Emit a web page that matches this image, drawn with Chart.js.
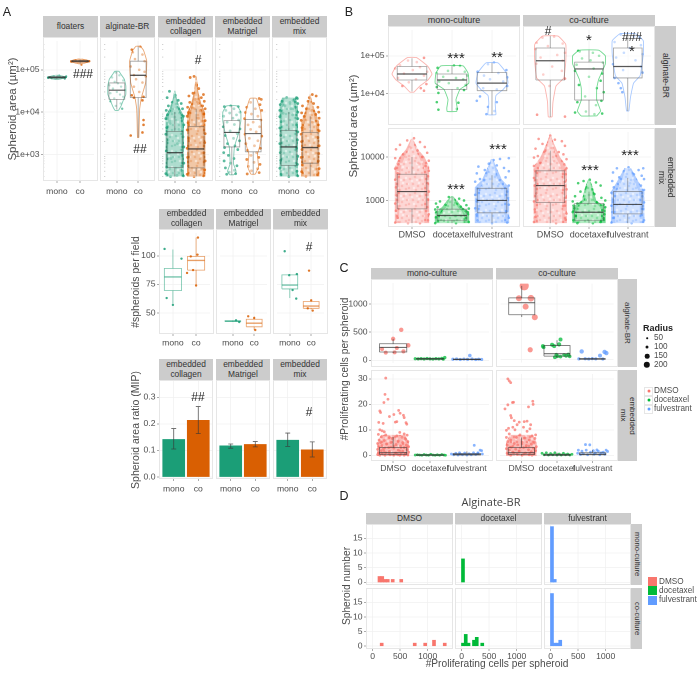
<!DOCTYPE html>
<html>
<head>
<meta charset="utf-8">
<title>Spheroid panels</title>
<script src="https://cdn.jsdelivr.net/npm/chart.js@4"></script>
<style>
  html, body { margin: 0; padding: 0; background: #fff; }
  #fig { position: relative; width: 700px; height: 674px; overflow: hidden; filter: blur(0.45px); font-family: "Liberation Sans", Arial, sans-serif; color: #4d4d4d; }
  #fig canvas { position: absolute; }
  .t { position: absolute; white-space: pre; line-height: 1.05; text-align: center; transform: translate(-50%, -50%); }
  .strip { position: absolute; background: #cccccc; color: #333; display: flex; align-items: center; justify-content: center; text-align: center; line-height: 1.15; white-space: pre; }
  .frame { position: absolute; border: 1px solid #e6e6e6; box-sizing: border-box; pointer-events: none; }
  .dot { position: absolute; border-radius: 50%; transform: translate(-50%, -50%); }
</style>
</head>
<body>
<div id="fig"></div>
<script>
// categories
const monoCo = ['mono', 'co'];
const drugs = ['DMSO', 'docetaxel', 'fulvestrant'];

// colours
const GREEN = '#1b9e77', ORANGE = '#d95f02';
const RED = '#f8766d', LIME = '#00ba38', BLUE = '#619cff';

// ---- panel A, spheroid area: [offset from category, value]
const aFloMono = [[-.38,6.4e4],[-.3,6.6e4],[-.22,6.3e4],[-.14,7e4],[-.06,6.5e4],[.02,6.9e4],[.1,7.3e4],[.18,6.5e4],[.26,6.7e4],[.34,6.2e4],[.4,7e4]];
const aFloCo = [[-.38,1.55e5],[-.3,1.62e5],[-.2,1.7e5],[-.1,1.5e5],[-.02,1.6e5],[.06,1.32e5],[.14,1.68e5],[.22,1.55e5],[.3,1.62e5],[.4,1.6e5]];
const aAlgMono = [[-.05,8.6e4],[.12,7.4e4],[-.22,6.6e4],[.3,5.6e4],[-.1,5.2e4],[.05,4.8e4],[-.35,4.3e4],[.2,4e4],[-.18,3.6e4],[.38,3.3e4],[0,3e4],[-.3,2.8e4],[.15,2.6e4],[.3,2.3e4],[-.12,2.1e4],[-.3,1.8e4],[.18,1.6e4],[-.05,1.4e4],[.25,1.2e4]];
const aAlgCo = [[-.3,3e5],[.1,3.5e5],[-.25,2.6e5],[.2,2.3e5],[-.15,1.8e5],[.3,1.6e5],[-.35,1.2e5],[.05,1e5],[.3,9e4],[-.2,7.5e4],[.35,7e4],[-.1,6e4],[.2,5e4],[-.2,4e4],[.05,3e4],[-.3,2.5e4],[.25,2.3e4],[-.2,2.2e4],[.2,1.9e4],[.25,5000],[.25,6500],[-.35,2800],[.2,3300]];
const aColMono = [[-.25,3.1e4],[.02,2.5e4],[-.36,2.2e4],[.16,1.9e4],[-.12,1.7e4],[.3,1.6e4],[-.3,1.4e4],[.1,1.3e4],[.36,1.2e4],[-.4,1.1e4],[-.16,1.05e4],[.22,9500],[-.34,8700],[.4,8000],[0,7600],[-.42,7000],[.33,6200],[-.22,5400],[.42,5000],[-.38,4300],[.2,3900],[-.42,3000],[.38,2600],[-.3,2200],[.12,1800],[.42,1500],[-.4,1200],[.34,950],[-.18,800],[.42,620],[-.38,500],[.3,420],[-.42,350],[.1,320],[.4,310],[-.2,300]];
const aColCo = [[-.1,7e4],[-.28,6.6e4],[.02,4.4e4],[.12,3.6e4],[-.15,2.8e4],[.34,2.6e4],[-.34,2.4e4],[.24,2.2e4],[-.05,2e4],[.38,1.8e4],[-.3,1.7e4],[.1,1.6e4],[.3,1.4e4],[-.4,1.3e4],[-.15,1.25e4],[.42,1.2e4],[.2,1.1e4],[-.36,9800],[.36,9000],[-.42,8000],[.1,7200],[.42,6300],[-.38,5600],[.28,4700],[-.42,3800],[.42,3100],[-.34,2400],[.4,1900],[-.42,1400],[.36,1100],[-.4,850],[.42,700],[-.36,520],[.4,430],[-.42,340],[.34,310],[-.1,300]];
const aMatMono = [[-.35,1.35e4],[-.05,1.4e4],[.3,1.35e4],[.1,1.2e4],[-.28,1.1e4],[.38,1e4],[-.1,9500],[.22,8600],[-.38,8000],[.05,7200],[.32,6500],[-.22,5800],[.12,5100],[-.4,4500],[.38,4000],[-.08,3600],[.25,3100],[-.3,2800],[.08,2400],[.36,2100],[-.2,1800],[.14,1600],[-.34,1450],[.28,1300],[-.38,1100],[-.16,950],[.1,800],[-.36,700],[-.05,620],[.24,540],[-.3,480],[.12,420],[-.12,380],[.18,350],[-.24,340]];
const aMatCo = [[.28,2.1e4],[.38,2e4],[-.12,1.7e4],[.32,1.5e4],[-.3,1.3e4],[.1,1.2e4],[.4,1.1e4],[-.36,9800],[-.08,9000],[.22,8000],[-.4,7000],[.36,6500],[0,5800],[-.24,5000],[.3,4500],[-.12,3900],[.14,3400],[-.38,3000],[.4,2700],[-.18,2400],[.22,2100],[-.34,1800],[.06,1600],[.34,1400],[-.26,1250],[.16,1100],[-.1,950],[.26,850],[-.3,760],[.04,650],[.32,580],[-.22,520],[.2,460],[-.08,410],[.28,370],[-.28,345]];
const aMixMono = [[.36,2.2e4],[.4,2.1e4],[-.1,2.2e4],[.2,1.9e4],[-.32,1.8e4],[.05,1.7e4],[.42,1.6e4],[-.4,1.5e4],[-.18,1.4e4],[.3,1.3e4],[.1,1.2e4],[-.42,1.1e4],[.42,1e4],[-.26,9400],[.18,8600],[-.42,7800],[.42,7000],[-.36,6000],[.36,5000],[-.42,4200],[.42,3400],[-.38,2800],[.4,2200],[-.42,1800],[.36,1400],[-.4,1100],[.42,900],[-.38,720],[.4,580],[-.42,470],[.38,400],[-.36,340],[.42,310],[0,300]];
const aMixCo = [[.1,2.6e4],[-.04,2.2e4],[.28,2.4e4],[-.1,1.8e4],[.16,1.6e4],[-.36,1.4e4],[.36,1.3e4],[-.18,1.2e4],[.08,1.1e4],[.4,1e4],[-.4,9600],[.26,8800],[-.28,7900],[.42,7200],[-.42,6400],[.1,5800],[.38,5000],[-.38,4300],[.42,3600],[-.42,3000],[.36,2500],[-.4,2000],[.42,1600],[-.38,1300],[.4,1050],[-.42,850],[.38,700],[-.36,560],[.42,460],[-.4,390],[.34,330],[-.2,305]];

// violins: [value, half width]
const aFloMonoV = [[5.8e4,.04],[6.4e4,.42],[6.9e4,.42],[7.6e4,.04]];
const aFloCoV = [[1.35e5,.04],[1.52e5,.42],[1.68e5,.42],[1.85e5,.04]];
const aAlgMonoV = [[1.1e4,.08],[1.4e4,.2],[2e4,.32],[2.6e4,.42],[4.2e4,.42],[6e4,.35],[8e4,.18],[9.2e4,.1]];
const aAlgCoV = [[2500,.03],[6000,.05],[1.2e4,.07],[2.2e4,.15],[5e4,.35],[1.6e5,.4],[2.9e5,.25],[3.6e5,.1]];
const aColMonoV = [[300,.42],[1000,.43],[3000,.43],[8000,.39],[1.2e4,.2],[2e4,.08],[3.2e4,.02]];
const aColCoV = [[300,.43],[1000,.43],[5000,.43],[1e4,.33],[1.5e4,.2],[3e4,.08],[7e4,.02]];
const aMatMonoV = [[330,.1],[400,.2],[600,.08],[1500,.12],[3000,.3],[6000,.42],[1e4,.42],[1.4e4,.25]];
const aMatCoV = [[340,.1],[500,.25],[1000,.2],[1500,.3],[3000,.4],[6000,.38],[1e4,.35],[2.1e4,.15]];
const aMixMonoV = [[300,.43],[1000,.43],[5000,.43],[1e4,.43],[1.5e4,.35],[2.2e4,.25]];
const aMixCoV = [[300,.4],[1000,.43],[3000,.43],[6000,.33],[1e4,.2],[2e4,.05],[2.6e4,.02]];

// boxes: [low, q1, median, q3, high]
const aFloMonoB = [6e4,6.4e4,6.6e4,6.9e4,7.3e4];
const aFloCoB = [1.4e5,1.54e5,1.6e5,1.66e5,1.75e5];
const aAlgMonoB = [1.15e4,2e4,3.3e4,4.9e4,9e4];
const aAlgCoB = [2500,2.2e4,7.4e4,1.6e5,3.6e5];
const aColMonoB = [300,490,1100,3500,1e4];
const aColCoB = [300,480,1350,4600,1.2e4];
const aMatMonoB = [330,1500,3300,6300,1.4e4];
const aMatCoB = [340,1150,3100,6700,2.1e4];
const aMixMonoB = [300,550,1500,3700,1e4];
const aMixCoB = [300,620,1450,3300,8000];

// ---- panel A, spheroids per field
const fColMono = [[-.36,106],[.37,97.5],[-.27,63],[0,57]];
const fColCo = [[.08,116],[.06,101],[-.23,99.5],[-.39,85],[-.13,87.5],[0,74]];
const fMatMono = [[.15,43.5],[.3,42]];
const fMatCo = [[-.28,47],[0,45.5],[.05,35]];
const fMixMono = [[-.24,104],[.33,84],[-.03,83],[.13,70],[.3,62.5]];
const fMixCo = [[-.1,87],[0,61],[.07,52],[-.16,54]];
const fColMonoB = [58,69.5,81.5,89,105.5];
const fColCoB = [74,87.5,96,99.5,116];
const fMatMonoB = [42,42.5,42.8,43,43.5];
const fMatCoB = [35,37.8,41,44.4,47];
const fMixMonoB = [63,71,74.4,83.3,84];
const fMixCoB = [53,54,56,60,61];

// ---- panel A, area ratio (MIP): mean, low, high for mono and co
const ratioCollagen = [[.141,.105,.182],[.213,.163,.265]];
const ratioMatrigel = [[.117,.108,.124],[.122,.113,.133]];
const ratioMix = [[.138,.115,.165],[.102,.075,.132]];

// ---- panel B, alginate-BR row
const bAlgMonoD = [[.3,8.8e4],[-.1,7.5e4],[.12,6.8e4],[-.3,5.6e4],[.2,5e4],[-.42,4.6e4],[.02,4.2e4],[.38,3.8e4],[-.2,3.4e4],[.3,3e4],[-.35,2.6e4],[.1,2.4e4],[-.08,2e4],[.36,1.8e4],[-.24,1.6e4],[.22,1.4e4],[.3,1.2e4]];
const bAlgMonoT = [[.05,5.5e4],[.2,5.4e4],[-.36,4.8e4],[-.1,4e4],[.32,3.8e4],[-.38,3.5e4],[.38,3e4],[-.22,2.8e4],[.1,2.6e4],[.28,2.4e4],[-.32,2.1e4],[-.08,1.9e4],[.34,1.7e4],[-.38,1.5e4],[.14,1.4e4],[-.34,1.05e4],[.3,1.25e4],[-.38,6000],[.16,5800],[-.34,3800],[.12,4000]];
const bAlgMonoF = [[.05,6.6e4],[-.1,6e4],[.36,4.2e4],[-.36,3.8e4],[.16,3.5e4],[-.2,3e4],[.38,2.7e4],[-.05,2.4e4],[.28,2.1e4],[-.34,1.9e4],[.38,1.6e4],[-.22,1.4e4],[.12,1.3e4],[-.3,8500],[-.38,6500],[.12,6000],[-.1,4500],[.06,3500],[-.14,2900]];
const bAlgCoD = [[.1,3.2e5],[-.2,3e5],[-.35,2.2e5],[.32,2.1e5],[-.06,1.8e5],[-.38,1.5e5],[.38,1.2e5],[.18,1.05e5],[-.25,9e4],[.32,7.5e4],[-.36,6.2e4],[.05,5.2e4],[.3,4e4],[-.18,3.2e4],[.38,2.5e4],[-.02,1.6e4],[-.34,2800],[.38,2500]];
const bAlgCoT = [[-.28,1.35e5],[-.24,1.3e5],[.1,1.2e5],[.26,1e5],[-.18,8.5e4],[.04,7.6e4],[.36,6.6e4],[-.32,5.8e4],[.12,4.6e4],[-.36,4e4],[.34,3.4e4],[0,2.8e4],[.3,2.2e4],[-.26,1.7e4],[.2,1.4e4],[.38,1.1e4],[-.1,8500],[.32,6500],[-.3,6000],[.18,5000],[-.36,3200],[-.08,3400],[.14,2900],[.34,3000]];
const bAlgCoF = [[-.18,3.6e5],[.16,3.2e5],[.3,3e5],[-.34,2.3e5],[.05,1.6e5],[.34,1.9e5],[-.1,1.2e5],[.38,1.1e5],[-.3,9e4],[.2,7.6e4],[-.38,6e4],[.34,5.2e4],[-.12,4.2e4],[.38,3.6e4],[-.34,2.6e4],[-.24,1.9e4],[-.18,1.4e4],[-.14,1.1e4]];
const bAlgMonoDV = [[1.1e4,.05],[1.6e4,.2],[2.3e4,.4],[3.3e4,.5],[5.2e4,.4],[7.5e4,.22],[9e4,.1]];
const bAlgMonoTV = [[3400,.12],[4200,.13],[7000,.1],[1.3e4,.2],[1.9e4,.42],[3.5e4,.4],[5.4e4,.28]];
const bAlgMonoFV = [[2800,.1],[5500,.08],[9000,.1],[1.3e4,.28],[1.9e4,.4],[3.6e4,.35],[6.5e4,.15]];
const bAlgCoDV = [[2450,.05],[6000,.07],[1.6e4,.15],[2.6e4,.35],[7e4,.4],[2e5,.4],[3.3e5,.2]];
const bAlgCoTV = [[2600,.2],[3500,.3],[6800,.2],[1.4e4,.2],[2.4e4,.25],[6e4,.42],[1e5,.42],[1.4e5,.25]];
const bAlgCoFV = [[3500,.03],[8000,.07],[1.9e4,.15],[3e4,.32],[1.1e5,.4],[2.5e5,.4],[3.8e5,.2]];
const bAlgMonoDB = [1.15e4,2.3e4,3.3e4,5.2e4,8.6e4];
const bAlgMonoTB = [3500,1.3e4,2.3e4,3.3e4,5.4e4];
const bAlgMonoFB = [2800,1.2e4,1.9e4,3.6e4,6.5e4];
const bAlgCoDB = [2450,2.3e4,7.4e4,1.6e5,3.3e5];
const bAlgCoTB = [2600,6800,4.5e4,6.8e4,1.4e5];
const bAlgCoFB = [3500,2.6e4,5.2e4,1.6e5,3.8e5];

// ---- panel B, embedded mix row
const bMixMonoD = [[.05,2.7e4],[-.12,2.4e4],[.2,2.2e4],[-.3,1.9e4],[.32,1.7e4],[-.02,1.6e4],[-.4,1.5e4],[.14,1.4e4],[.38,1.25e4],[-.22,1.15e4],[.26,1e4],[-.42,9400],[-.08,8800],[.42,8200],[.16,7300],[-.34,6800],[.34,6200],[-.42,5400],[.42,4800],[-.36,4200],[.4,3600],[-.42,3000],[.38,2500],[-.4,2000],[.42,1600],[-.38,1300],[.4,1050],[-.42,850],[.38,700],[-.4,580],[.42,480],[-.36,400],[.4,350],[-.42,310],[.2,300],[-.1,300]];
const bMixMonoT = [[-.08,1200],[.18,1100],[-.3,950],[.3,1000],[.08,880],[-.4,850],[-.16,800],[.36,780],[.22,720],[-.36,700],[.42,650],[-.42,620],[.34,560],[-.26,530],[.4,480],[.1,440],[-.4,410],[.3,370],[-.2,340],[.42,320],[-.42,300],[.1,300]];
const bMixMonoF = [[.2,9000],[.42,9400],[.04,8500],[-.08,7000],[.12,6400],[-.34,6000],[.3,5600],[-.18,5000],[.42,4700],[-.38,4200],[.1,3800],[.34,3400],[-.3,3100],[-.42,2700],[.18,2400],[.42,2200],[-.36,1900],[.38,1600],[-.42,1350],[.4,1150],[-.38,950],[.42,800],[-.42,660],[.36,560],[-.38,480],[.42,400],[-.36,350],[.38,310],[0,300]];
const bMixCoD = [[0,3.1e4],[-.3,2.6e4],[.12,2.5e4],[.3,2.3e4],[-.2,2e4],[.38,1.8e4],[.06,1.6e4],[-.38,1.55e4],[-.12,1.4e4],[.22,1.3e4],[.34,1.15e4],[-.32,1.05e4],[-.42,9700],[.42,8900],[.1,8000],[-.26,7300],[.36,6800],[-.42,6200],[.42,5500],[-.38,4700],[.4,4000],[-.42,3300],[.38,2700],[-.4,2200],[.42,1800],[-.36,1450],[.4,1150],[-.42,950],[.38,760],[-.4,620],[.42,500],[-.38,420],[.4,360],[-.42,320],[.15,300]];
const bMixCoT = [[.02,3000],[-.14,2800],[.18,2600],[-.28,2500],[.3,2200],[-.06,2000],[.08,1800],[-.22,1600],[.14,1400],[-.36,1250],[.32,1150],[-.1,1050],[.42,1000],[-.42,950],[.2,900],[-.3,850],[.38,800],[-.4,760],[.42,700],[-.38,660],[.34,600],[-.42,540],[.4,480],[-.34,440],[.38,390],[-.4,350],[.3,320],[-.3,300],[.1,300]];
const bMixCoF = [[.02,5800],[-.28,5500],[.4,5500],[.28,5000],[-.1,4700],[-.38,4400],[.16,4000],[.36,3700],[-.22,3400],[.42,3100],[-.4,2800],[.06,2500],[.34,2200],[-.36,2000],[.42,1750],[-.42,1500],[.38,1250],[-.38,1050],[.42,900],[-.42,760],[.4,640],[-.4,540],[.36,460],[-.36,400],[.42,350],[-.42,310],[.1,300]];
const bMixMonoDV = [[300,.43],[1000,.43],[3000,.43],[6000,.38],[1e4,.25],[1.5e4,.12],[2.6e4,.02]];
const bMixMonoTV = [[300,.43],[400,.43],[550,.35],[700,.2],[1000,.1],[1250,.02]];
const bMixMonoFV = [[300,.43],[800,.43],[2000,.4],[3000,.2],[6000,.08],[9000,.02]];
const bMixCoDV = [[300,.43],[1000,.43],[3000,.43],[6000,.38],[1e4,.2],[2e4,.08],[3e4,.02]];
const bMixCoTV = [[300,.35],[400,.43],[700,.4],[1000,.15],[2000,.08],[3000,.02]];
const bMixCoFV = [[300,.43],[800,.43],[1600,.4],[3000,.2],[5500,.07]];
const bMixMonoDB = [300,640,1600,4000,1e4];
const bMixMonoTB = [300,350,450,630,1200];
const bMixMonoFB = [300,520,1000,1900,3800];
const bMixCoDB = [300,890,2200,4800,1.4e4];
const bMixCoTB = [300,350,535,850,1600];
const bMixCoFB = [300,490,810,1600,3300];

// ---- panel C, alginate-BR row: [offset, cells, radius]
const cAlgMonoD = [[.22,540,80],[0,380,80],[.41,265,85],[.1,217,70],[-.3,200,70],[-.2,135,70],[.04,140,70],[.28,158,75]];
const cAlgMonoT = [[-.4,28,50],[-.32,25,50],[-.24,30,50],[-.16,24,50],[-.08,32,50],[0,26,50],[.08,22,50],[.16,30,50],[.24,25,50],[.32,34,50],[.4,48,55],[.36,20,50]];
const cAlgMonoF = [[-.38,18,50],[-.28,24,50],[-.18,14,50],[-.08,22,50],[.02,16,50],[.08,85,60],[.14,24,50],[.24,13,50],[.32,20,50],[.4,15,50]];
const cAlgCoD = [[.07,1331,200],[-.08,1108,120],[.26,1108,135],[.11,956,120],[.37,766,120],[.24,180,100]];
const cAlgCoT = [[-.4,245,70],[-.38,225,65],[-.14,270,70],[-.08,245,70],[.1,365,70],[.06,277,75],[-.06,45,65],[.02,65,60],[.1,55,60],[.2,85,60],[.26,70,60],[.32,95,60],[.36,60,60],[-.02,90,60]];
const cAlgCoF = [[-.3,150,80],[.35,140,80],[.4,120,80],[.22,75,70],[-.38,15,50],[-.2,18,50],[-.1,14,50],[0,20,50],[.1,16,50],[.3,13,50]];
const cAlgMonoDB = [130,147,228,293,380];
const cAlgMonoTB = [10,18,25,32,45];
const cAlgMonoFB = [8,12,15,20,30];
const cAlgCoDB = [770,810,1027,1114,1331];
const cAlgCoTB = [30,65,108,255,350];
const cAlgCoFB = [5,10,14,20,35];

// ---- panel C, embedded mix row: [offset, cells]
const cMixMonoD = [[-.2,30.3],[-.22,23.9],[-.14,22],[-.25,20.7],[-.36,17.4],[-.34,16.8],[.15,17.6],[.19,16.5],[.02,16],[-.1,15.2],[.28,15.7],[.3,14.8],[.06,13],[.1,13.2],[.35,12.8],[.37,12.2],[-.39,12.9],[-.27,12.5],[-.36,10],[-.3,9.6],[-.24,9.2],[.18,9],[.3,8.4],[-.4,8.2],[-.2,8],[.38,7.9],[.1,7.6],[-.32,7.2],[-.1,7],[.24,7],[-.02,6.6],[.34,6.3],[-.38,6],[-.24,5.8],[.14,5.6],[.4,5.4],[-.34,5],[-.06,5],[.26,5],[-.42,4.6],[-.18,4.4],[.08,4.2],[.36,4],[-.3,3.8],[.2,3.7],[.42,3.4],[-.38,3.2],[-.12,3],[.3,3],[.02,2.8],[-.26,2.6],[-.42,2.3],[.38,2.2],[.14,2],[-.32,1.8],[.26,1.6],[-.1,1.5],[.42,1.2],[-.4,1],[-.2,1],[.08,.9],[.34,.8],[-.3,.6],[.22,.5],[-.42,.3],[-.08,.2],[.12,.2],[.4,.1],[-.22,0],[.3,0],[.02,0],[-.36,0],[.18,0]];
const cMixMonoT = [[-.4,.1],[-.34,.2],[-.28,.1],[-.22,0],[-.16,.3],[-.1,.1],[-.04,0],[.02,.4],[.08,.1],[.14,0],[.2,.2],[.26,0],[.32,.3],[.38,.1],[.42,0]];
const cMixMonoF = [[-.42,.5],[-.36,.2],[-.3,.8],[-.24,.1],[-.18,.5],[-.12,.2],[-.06,.9],[0,.1],[.06,.6],[.12,.2],[.18,1],[.24,.3],[.3,.8],[.36,2],[.4,1.8],[.42,.5],[.2,3.9],[.3,1],[-.2,1]];
const cMixCoD = [[-.38,30],[-.34,29.2],[-.3,28.5],[-.25,20.7],[-.22,20.8],[-.38,19.8],[-.46,18.2],[.2,19],[.32,21.2],[.33,20],[-.3,15.6],[-.28,14.7],[-.2,13.6],[-.06,13],[.08,13.2],[.16,13.4],[-.12,12],[.26,12],[-.24,11],[-.36,10.6],[.06,11],[.24,10.4],[-.42,9.8],[-.18,10],[.16,9.4],[.4,8],[-.34,8.4],[-.04,8],[.3,7.6],[-.42,7],[-.14,7],[.1,6.8],[.38,6.6],[-.3,6],[.22,6],[-.38,5.4],[.02,5.2],[.36,5],[-.2,4.6],[.28,4.4],[-.4,4],[-.1,4],[.14,3.8],[.42,3.4],[-.28,3.2],[.06,3],[.34,2.8],[-.42,2.6],[-.16,2.4],[.2,2.2],[-.34,2],[.4,1.8],[-.06,1.6],[.28,1.4],[-.24,1.2],[.12,1],[-.4,.8],[.36,.6],[-.12,.4],[.22,.2],[-.3,0],[.02,0],[.3,0]];
const cMixCoT = [[-.42,.8],[-.36,.2],[-.3,1],[-.24,.1],[-.18,.7],[-.12,.2],[-.06,1],[0,.1],[.06,.5],[.12,.1],[.18,.8],[.24,.2],[.3,.5],[.36,.1],[.42,.4]];
const cMixCoF = [[-.2,4.2],[-.08,4.1],[.12,2.1],[-.4,2],[-.3,1.6],[-.18,2],[-.06,1.2],[.02,1.8],[.08,1],[.16,1.6],[.24,1],[.3,1.2],[.38,2],[.42,1.5],[-.42,.8],[-.34,.3],[-.26,.6],[-.14,.2],[.04,.4],[.2,.2],[.34,.4]];
const cMixBandD = [[-.3,.43],[3,.43],[5,.36],[8,.26]];
const cMixMonoDB = [0,.3,1,3,7.2];
const cMixMonoTB = [0,0,.1,.2,.4];
const cMixMonoFB = [0,.1,.3,.7,1.5];
const cMixCoDB = [0,.3,1,3,7];
const cMixCoTB = [0,0,.1,.4,1];
const cMixCoFB = [0,.2,.4,1,2];

// ---- panel D histograms: [bin centre, spheroid count]
const dMonoD = [[125,2],[175,2],[225,1],[275,1],[365,1],[520,1]];
const dMonoT = [[25,8]];
const dMonoF = [[25,19],[75,1]];
const dCoD = [[165,1],[765,1],[955,1],[1115,2],[1310,1]];
const dCoT = [[25,1],[75,4],[125,1],[225,2],[275,3],[375,1]];
const dCoF = [[25,18],[75,1],[125,1],[175,2]];

// tick lists
const areaTicksA = [1e3, 1e4, 1e5], areaLabelsA = ['1e+03', '1e+04', '1e+05'];
const areaTicksB = [1e4, 1e5], areaLabelsB = ['1e+04', '1e+05'];
const mixTicksB = [1e3, 1e4], mixLabelsB = ['1000', '10000'];
const fieldTicks = [50, 75, 100], ratioTicks = [0, .1, .2, .3], ratioLabels = ['0.0', '0.1', '0.2', '0.3'];
const cellTicksTop = [0, 500, 1000], cellTicksLow = [0, 10, 20, 30], countTicks = [0, 5, 10, 15], cellBins = [0, 500, 1000];
const minorTicksA = [300,400,500,600,700,800,900,2e3,3e3,4e3,5e3,6e3,7e3,8e3,9e3,2e4,3e4,4e4,5e4,6e4,7e4,8e4,9e4,2e5,3e5,4e5];

// speckle tile for the crowded jitter clouds
const speckDark = [[2,3],[7,1],[12,4],[5,8],[10,10],[14,13],[1,12],[8,14],[15,8]];
const speckLight = [[4,5],[11,7],[6,12],[14,2],[0,8],[9,4]];

const fig = document.getElementById('fig');
const TICK_FONT = 8.6;

function text(label, x, y, size, opts) {
  opts = opts || {};
  const d = document.createElement('div');
  d.className = 't';
  d.textContent = label;
  d.style.left = x + 'px';
  d.style.top = y + 'px';
  d.style.fontSize = size + 'px';
  if (opts.color) d.style.color = opts.color;
  if (opts.weight) d.style.fontWeight = opts.weight;
  if (opts.font) d.style.fontFamily = opts.font;
  if (opts.rot) d.style.transform = 'translate(-50%, -50%) rotate(' + opts.rot + 'deg)';
  fig.appendChild(d);
}

function strip(label, x, y, w, h, size, vertical) {
  const d = document.createElement('div');
  d.className = 'strip';
  d.textContent = label;
  d.style.cssText += 'left:' + x + 'px;top:' + y + 'px;width:' + w + 'px;height:' + h + 'px;font-size:' + size + 'px;';
  if (vertical) d.style.writingMode = 'vertical-rl';
  fig.appendChild(d);
}

function rgba(hex, a) {
  const n = parseInt(hex.slice(1), 16);
  return 'rgba(' + (n >> 16) + ',' + ((n >> 8) & 255) + ',' + (n & 255) + ',' + a + ')';
}

function speckle(hex, base) {
  const c = document.createElement('canvas');
  c.width = c.height = 16;
  const ctx = c.getContext('2d');
  ctx.fillStyle = rgba(hex, base);
  ctx.fillRect(0, 0, 16, 16);
  const spots = (list, colour, r) => {
    ctx.fillStyle = colour;
    list.forEach(s => { ctx.beginPath(); ctx.arc(s[0], s[1], r, 0, 7); ctx.fill(); });
  };
  spots(speckDark, hex, 1.1);
  spots(speckLight, 'rgba(255,255,255,.8)', 1);
  return ctx.createPattern(c, 'repeat');
}

function violinShape(cat, levels, k, cap) {
  const w = l => Math.min(l[1] * k, cap || 1);
  const right = levels.map(l => ({ x: cat + w(l), y: l[0] }));
  const left = levels.slice().reverse().map(l => ({ x: cat - w(l), y: l[0] }));
  return right.concat(left, [right[0]]);
}

function boxSets(cat, b, color, hw, wide, medColor) {
  const line = (data, w, c) => ({ type: 'scatter', showLine: true, data, borderColor: c || color, borderWidth: w, pointRadius: 0, fill: false });
  return [
    line([{ x: cat, y: b[0] }, { x: cat, y: b[1] }], .8),
    line([{ x: cat, y: b[3] }, { x: cat, y: b[4] }], .8),
    line([{ x: cat - hw, y: b[1] }, { x: cat + hw, y: b[1] }, { x: cat + hw, y: b[3] }, { x: cat - hw, y: b[3] }, { x: cat - hw, y: b[1] }], .8),
    line([{ x: cat - hw, y: b[2] }, { x: cat + hw, y: b[2] }], wide, medColor)
  ];
}

// one group = jitter cloud + violin + box at a category position
function groupSets(g) {
  const out = [];
  const alpha = g.alpha || .75;
  const under = g.violin && g.dense;
  if (under) {
    out.push({ type: 'scatter', showLine: true, data: violinShape(g.cat, g.violin, 1.25, .43), fill: 'shape', backgroundColor: speckle(g.color, g.dense), borderWidth: 0, pointRadius: 0 });
  }
  if (g.pts) {
    out.push({ type: 'scatter', data: g.pts.map(p => ({ x: g.cat + p[0], y: p[1] })), backgroundColor: rgba(g.color, alpha), borderWidth: 0,
      pointRadius: g.pts.map(p => p[2] ? .6 + p[2] / 50 : (g.r || 1.4)), showLine: false });
  }
  if (g.violin && !g.noOverlay) {
    out.push({ type: 'scatter', showLine: true, data: violinShape(g.cat, g.violin, under ? .72 : 1), fill: 'shape', backgroundColor: under ? 'rgba(255,255,255,.42)' : 'rgba(255,255,255,.5)', borderColor: under ? 'rgba(255,255,255,0)' : rgba(g.color, .55), borderWidth: .9, pointRadius: 0, tension: .12 });
  }
  if (g.box) out.push(...boxSets(g.cat, g.box, g.boxColor || 'rgba(80,80,80,.55)', .37, g.medWidth || 1.4, g.medColor || (g.boxColor ? null : 'rgba(45,45,45,.8)')));
  return out;
}

function panel(p) {
  const L = p.left || 0, B = p.bottom || 0;
  const canvas = document.createElement('canvas');
  canvas.width = p.w + L;
  canvas.height = p.h + B;
  canvas.style.left = (p.x - L) + 'px';
  canvas.style.top = p.y + 'px';
  canvas.style.width = (p.w + L) + 'px';
  canvas.style.height = (p.h + B) + 'px';
  fig.appendChild(canvas);

  const sets = p.datasets;
  sets.forEach((d, i) => { d.order = -i; });

  // keep the plot rectangle exact: no room reserved for overhanging tick labels
  const noPad = s => { s.paddingTop = s.paddingBottom = s.paddingLeft = s.paddingRight = 0; };

  new Chart(canvas, {
    type: p.type || 'scatter',
    data: { datasets: sets },
    options: {
      responsive: false,
      animation: false,
      devicePixelRatio: 2,
      layout: { padding: 0 },
      plugins: { legend: { display: false }, tooltip: { enabled: false } },
      scales: {
        x: {
          type: 'linear', min: p.xMin, max: p.xMax, offset: false,
          afterBuildTicks: s => { s.ticks = p.xTicks.map(v => ({ value: v })); },
          afterFit: s => { s.height = B; noPad(s); },
          grid: { color: '#f0f0f0', lineWidth: .7, drawTicks: B > 4, tickLength: 2, tickColor: '#888', offset: false },
          border: { display: false },
          ticks: { display: B > 4, autoSkip: false, maxRotation: 0, padding: p.xPad === undefined ? 2 : p.xPad, color: '#4d4d4d', font: { size: p.xFont || TICK_FONT, family: 'Liberation Sans' },
            callback: (v, i) => p.xLabels ? p.xLabels[i] : String(v) }
        },
        y: {
          type: p.yLog ? 'logarithmic' : 'linear', min: p.yMin, max: p.yMax,
          afterBuildTicks: s => { s.ticks = p.yTicks.map(v => ({ value: v })); },
          afterFit: s => { s.width = L; noPad(s); },
          grid: { color: '#f0f0f0', lineWidth: .7, drawTicks: L > 4, tickLength: 2, tickColor: '#888' },
          border: { display: false },
          ticks: { display: L > 4, padding: 1.5, color: '#4d4d4d', font: { size: p.yFont || TICK_FONT, family: 'Liberation Sans' },
            callback: (v, i) => p.yLabels ? p.yLabels[i] : String(v) }
        }
      }
    }
  });

  const f = document.createElement('div');
  f.className = 'frame';
  f.style.cssText += 'left:' + p.x + 'px;top:' + p.y + 'px;width:' + p.w + 'px;height:' + p.h + 'px;';
  fig.appendChild(f);
}

function minorTickSet(xMin, values) {
  const data = [];
  values.forEach(v => { data.push({ x: xMin, y: v }, { x: xMin + .06, y: v }, { x: NaN, y: NaN }); });
  return { type: 'scatter', showLine: true, data, borderColor: '#b5b5b5', borderWidth: .6, pointRadius: 0, spanGaps: false };
}

// ---------- A: spheroid area
const aStrips = ['floaters', 'alginate-BR', 'embedded\ncollagen', 'embedded\nMatrigel', 'embedded\nmix'];
const aX = [43, 100, 158, 215, 272];
const aGroups = [
  [{ cat: 1, color: GREEN, pts: aFloMono, violin: aFloMonoV, box: aFloMonoB, dense: .8, r: 1.1 }, { cat: 2, color: ORANGE, pts: aFloCo, violin: aFloCoV, box: aFloCoB, dense: .8, r: 1.1 }],
  [{ cat: 1, color: GREEN, pts: aAlgMono, violin: aAlgMonoV, box: aAlgMonoB, alpha: .6, medWidth: 1.1, r: 1.2 }, { cat: 2, color: ORANGE, pts: aAlgCo, violin: aAlgCoV, box: aAlgCoB, alpha: .8, medWidth: 1.4, r: 1.3 }],
  [{ cat: 1, color: GREEN, pts: aColMono, violin: aColMonoV, box: aColMonoB, dense: .6 }, { cat: 2, color: ORANGE, pts: aColCo, violin: aColCoV, box: aColCoB, dense: .6 }],
  [{ cat: 1, color: GREEN, pts: aMatMono, violin: aMatMonoV, box: aMatMonoB, alpha: .7, medWidth: 1.1 }, { cat: 2, color: ORANGE, pts: aMatCo, violin: aMatCoV, box: aMatCoB, alpha: .7, medWidth: 1.1 }],
  [{ cat: 1, color: GREEN, pts: aMixMono, violin: aMixMonoV, box: aMixMonoB, dense: .55 }, { cat: 2, color: ORANGE, pts: aMixCo, violin: aMixCoV, box: aMixCoB, dense: .5 }]
];
aStrips.forEach((s, i) => {
  strip(s, aX[i], 16, 55, 21, 8.4);
  const sets = [minorTickSet(.4, minorTicksA)];
  aGroups[i].forEach(g => sets.push(...groupSets(g)));
  panel({ x: aX[i], y: 37, w: 55, h: 144, left: i ? 0 : 30, bottom: 16, xPad: 3.5, xMin: .4, xMax: 2.6, xTicks: [1, 2], xLabels: monoCo,
    yLog: true, yMin: 235, yMax: 4.8e5, yTicks: areaTicksA, yLabels: i ? null : areaLabelsA, datasets: sets });
});

// ---------- A: spheroids per field
const midStrips = ['embedded\ncollagen', 'embedded\nMatrigel', 'embedded\nmix'];
const fieldX = [159, 216, 273];
const fieldPts = [[fColMono, fColCo], [fMatMono, fMatCo], [fMixMono, fMixCo]];
const fieldBox = [[fColMonoB, fColCoB], [fMatMonoB, fMatCoB], [fMixMonoB, fMixCoB]];
midStrips.forEach((s, i) => {
  strip(s, fieldX[i], 209, 55, 20, 8.4);
  const sets = [];
  [GREEN, ORANGE].forEach((c, k) => {
    sets.push(...groupSets({ cat: k + 1, color: c, alpha: .85, r: 1.2, box: fieldBox[i][k], boxColor: rgba(c, .6), medWidth: 1.4 }));
    sets.push(...groupSets({ cat: k + 1, color: c, alpha: .85, r: 1.2, pts: fieldPts[i][k] }));
  });
  panel({ x: fieldX[i], y: 229, w: 55, h: 105, left: i ? 0 : 20, bottom: 16, xMin: .4, xMax: 2.6, xTicks: [1, 2], xLabels: monoCo,
    yMin: 31.5, yMax: 120, yTicks: fieldTicks, yLabels: i ? null : fieldTicks.map(String), datasets: sets });
});

// ---------- A: area ratio
const ratioX = [159, 216, 273];
const ratios = [ratioCollagen, ratioMatrigel, ratioMix];
midStrips.forEach((s, i) => {
  strip(s, ratioX[i], 359, 54, 21, 8.4);
  const bars = { type: 'bar', data: ratios[i].map((r, k) => ({ x: k + 1, y: r[0] })), backgroundColor: [GREEN, ORANGE], barThickness: 22 };
  const sets = [bars];
  ratios[i].forEach((r, k) => {
    const c = k + 1;
    sets.push({ type: 'scatter', showLine: true, borderColor: 'rgba(55,55,55,.8)', borderWidth: .8, pointRadius: 0,
      data: [{ x: c - .1, y: r[2] }, { x: c + .1, y: r[2] }, { x: c, y: r[2] }, { x: c, y: r[1] }, { x: c - .1, y: r[1] }, { x: c + .1, y: r[1] }] });
  });
  panel({ type: 'bar', x: ratioX[i], y: 380, w: 54, h: 99, left: i ? 0 : 20, bottom: 16, xPad: 3, xMin: .4, xMax: 2.6, xTicks: [1, 2], xLabels: monoCo,
    yMin: -.008, yMax: .365, yTicks: ratioTicks, yLabels: i ? null : ratioLabels, datasets: sets });
});

// ---------- B
strip('mono-culture', 388, 15, 132, 11, 9);
strip('co-culture', 523, 15, 132, 11, 9);
strip('alginate-BR', 655, 26, 21, 99, 8.6, true);
strip('embedded\nmix', 655, 128, 21, 99, 8.6, true);
const drugColours = [RED, LIME, BLUE];
function drugGroups(ptsList, violinList, boxList, dense) {
  const sets = [];
  drugColours.forEach((c, k) => sets.push(...groupSets({ cat: k + 1, color: c, pts: ptsList[k], violin: violinList[k], box: boxList[k], dense, alpha: .7, r: 1.3, medWidth: 1.2 })));
  return sets;
}
panel({ x: 388, y: 26, w: 132, h: 99, left: 28, xMin: .4, xMax: 3.6, xTicks: [1, 2, 3], yLog: true, yMin: 1910, yMax: 4.77e5, yTicks: areaTicksB, yLabels: areaLabelsB, yFont: 8.6,
  datasets: drugGroups([bAlgMonoD, bAlgMonoT, bAlgMonoF], [bAlgMonoDV, bAlgMonoTV, bAlgMonoFV], [bAlgMonoDB, bAlgMonoTB, bAlgMonoFB]) });
panel({ x: 523, y: 26, w: 132, h: 99, xMin: .4, xMax: 3.6, xTicks: [1, 2, 3], yLog: true, yMin: 1910, yMax: 4.77e5, yTicks: areaTicksB,
  datasets: drugGroups([bAlgCoD, bAlgCoT, bAlgCoF], [bAlgCoDV, bAlgCoTV, bAlgCoFV], [bAlgCoDB, bAlgCoTB, bAlgCoFB]) });
panel({ x: 388, y: 128, w: 132, h: 99, left: 28, bottom: 16, xPad: .5, xMin: .4, xMax: 3.6, xTicks: [1, 2, 3], xLabels: drugs, xFont: 9, yLog: true, yMin: 245, yMax: 3.75e4, yTicks: mixTicksB, yLabels: mixLabelsB,
  datasets: drugGroups([bMixMonoD, bMixMonoT, bMixMonoF], [bMixMonoDV, bMixMonoTV, bMixMonoFV], [bMixMonoDB, bMixMonoTB, bMixMonoFB], .5) });
panel({ x: 523, y: 128, w: 132, h: 99, bottom: 16, xPad: .5, xMin: .4, xMax: 3.6, xTicks: [1, 2, 3], xLabels: drugs, xFont: 9, yLog: true, yMin: 245, yMax: 3.75e4, yTicks: mixTicksB,
  datasets: drugGroups([bMixCoD, bMixCoT, bMixCoF], [bMixCoDV, bMixCoTV, bMixCoFV], [bMixCoDB, bMixCoTB, bMixCoFB], .5) });

// ---------- C
strip('mono-culture', 371, 268, 122, 11, 8.6);
strip('co-culture', 496, 268, 122, 11, 8.6);
strip('alginate-BR', 618, 279, 19, 88, 8, true);
strip('embedded\nmix', 618, 370, 19, 91, 8, true);
function cellGroups(ptsList, boxList, r, band) {
  const sets = [];
  drugColours.forEach((c, k) => sets.push(...groupSets({ cat: k + 1, color: c, pts: ptsList[k], box: boxList[k], alpha: .75, r, medWidth: 1.1, boxColor: 'rgba(50,50,50,.7)',
    violin: k === 0 ? band : null, dense: k === 0 && band ? .5 : 0, noOverlay: true })));
  return sets;
}
panel({ x: 371, y: 279, w: 122, h: 88, left: 26, xMin: .4, xMax: 3.6, xTicks: [1, 2, 3], yMin: -48, yMax: 1371, yTicks: cellTicksTop, yLabels: cellTicksTop.map(String),
  datasets: cellGroups([cAlgMonoD, cAlgMonoT, cAlgMonoF], [cAlgMonoDB, cAlgMonoTB, cAlgMonoFB], 1.5) });
panel({ x: 496, y: 279, w: 122, h: 88, xMin: .4, xMax: 3.6, xTicks: [1, 2, 3], yMin: -48, yMax: 1371, yTicks: cellTicksTop,
  datasets: cellGroups([cAlgCoD, cAlgCoT, cAlgCoF], [cAlgCoDB, cAlgCoTB, cAlgCoFB], 1.5) });
panel({ x: 371, y: 370, w: 122, h: 91, left: 26, bottom: 16, xPad: .5, xMin: .4, xMax: 3.6, xTicks: [1, 2, 3], xLabels: drugs, yMin: -2.25, yMax: 31.9, yTicks: cellTicksLow, yLabels: cellTicksLow.map(String),
  datasets: cellGroups([cMixMonoD, cMixMonoT, cMixMonoF], [cMixMonoDB, cMixMonoTB, cMixMonoFB], 1.4, cMixBandD) });
panel({ x: 496, y: 370, w: 122, h: 91, bottom: 16, xPad: .5, xMin: .4, xMax: 3.6, xTicks: [1, 2, 3], xLabels: drugs, yMin: -2.25, yMax: 31.9, yTicks: cellTicksLow,
  datasets: cellGroups([cMixCoD, cMixCoT, cMixCoF], [cMixCoDB, cMixCoTB, cMixCoFB], 1.4, cMixBandD) });

// ---------- D
text('Alginate-BR', 491, 502, 11, { font: '"Open Sans", sans-serif', color: '#444' });
const dX = [366, 455, 544];
drugs.forEach((s, i) => strip(s, dX[i], 513, 87, 11, 8.4));
strip('mono-culture', 631, 524, 11, 61, 7.6, true);
strip('co-culture', 631, 588, 11, 61, 7.6, true);
const dRows = [[dMonoD, dMonoT, dMonoF], [dCoD, dCoT, dCoF]];
dRows.forEach((row, r) => {
  row.forEach((bins, i) => {
    panel({ type: 'bar', x: dX[i], y: r ? 588 : 524, w: 87, h: 61, left: i ? 0 : 18, bottom: r ? 16 : 0, xPad: .5, xMin: -120, xMax: 1460, xTicks: cellBins,
      yMin: r ? -1 : -.9, yMax: 19.9, yTicks: countTicks, yLabels: i ? null : countTicks.map(String),
      datasets: [{ type: 'bar', data: bins.map(b => ({ x: b[0], y: b[1] })), backgroundColor: drugColours[i], barThickness: 3 }] });
  });
});

// ---------- axis titles
text('Spheroid area (\u00b5m\u00b2)', 12, 109, 11.5, { rot: -90 });
text('#spheroids per field', 136, 282, 10.5, { rot: -90 });
text('Spheroid area ratio (MIP)', 136, 430, 10.5, { rot: -90 });
text('Spheroid area (\u00b5m\u00b2)', 353, 126, 11.5, { rot: -90 });
text('#Proliferating cells per spheroid', 345, 369, 10.2, { rot: -90 });
text('Spheroid number', 347, 586, 10.2, { rot: -90 });
text('#Proliferating cells per spheroid', 497, 664, 10.2);

// ---------- panel letters
text('A', 7, 13, 12.5, { color: '#222' });
text('B', 349, 13, 12.5, { color: '#222' });
text('C', 344, 269, 12.5, { color: '#222' });
text('D', 344, 497, 12.5, { color: '#222' });

// ---------- significance marks
const marks = [
  ['###', 83, 74, 12], ['##', 140, 149, 12], ['#', 198, 60, 12], ['#', 309, 247, 12], ['##', 198, 397, 12], ['#', 309, 412, 12],
  ['#', 548, 31, 12], ['###', 632, 37, 12],
  ['***', 456, 58, 15], ['**', 497, 57, 15], ['*', 589, 40, 15], ['*', 632, 51, 15],
  ['***', 456, 189, 15], ['***', 498, 149, 15], ['***', 590, 170, 15], ['***', 630, 155, 15]
];
marks.forEach(m => text(m[0], m[1], m[2], m[3], { color: '#222' }));

// ---------- legends
text('Radius', 658, 329, 9, { weight: 'bold', color: '#222' });
['50', '100', '150', '200'].forEach((v, i) => {
  const yy = [338, 347, 356, 365][i], r = [1.6, 3, 4.6, 6.4][i];
  const d = document.createElement('div');
  d.className = 'dot';
  d.style.cssText += 'left:647px;top:' + yy + 'px;width:' + r + 'px;height:' + r + 'px;background:#111;';
  fig.appendChild(d);
  const t = document.createElement('div');
  t.className = 't';
  t.textContent = v;
  t.style.cssText += 'left:654px;top:' + yy + 'px;font-size:8.2px;transform:translate(0,-50%);';
  fig.appendChild(t);
});
drugs.forEach((n, i) => {
  const yy = 391 + i * 9;
  const b = document.createElement('div');
  b.className = 'frame';
  b.style.cssText += 'left:644px;top:' + (yy - 4.5) + 'px;width:9px;height:9px;';
  fig.appendChild(b);
  const d = document.createElement('div');
  d.className = 'dot';
  d.style.cssText += 'left:648.5px;top:' + yy + 'px;width:3px;height:3px;background:' + drugColours[i] + ';';
  fig.appendChild(d);
  const t = document.createElement('div');
  t.className = 't';
  t.textContent = n;
  t.style.cssText += 'left:654px;top:' + yy + 'px;font-size:8.2px;transform:translate(0,-50%);';
  fig.appendChild(t);
  const sw = document.createElement('div');
  sw.style.cssText = 'position:absolute;left:648px;top:' + (577 + i * 9.3) + 'px;width:9px;height:9px;background:' + drugColours[i] + ';';
  fig.appendChild(sw);
  const l = document.createElement('div');
  l.className = 't';
  l.textContent = n;
  l.style.cssText += 'left:659px;top:' + (581.5 + i * 9.3) + 'px;font-size:8.2px;transform:translate(0,-50%);';
  fig.appendChild(l);
});
</script>
</body>
</html>
